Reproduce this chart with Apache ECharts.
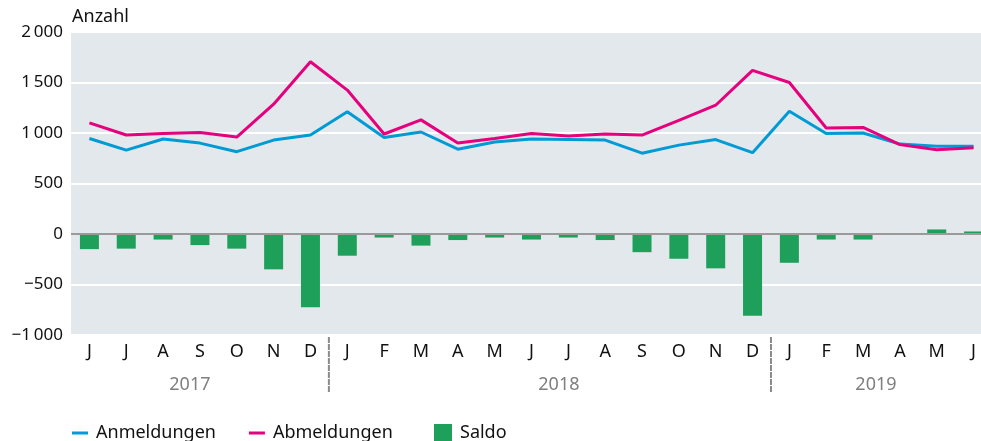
<!DOCTYPE html>
<html>
<head>
<meta charset="utf-8">
<script src="https://cdn.jsdelivr.net/npm/echarts@6/dist/echarts.min.js"></script>
<style>
  html, body { margin: 0; padding: 0; background: #fff; }
  #chart { width: 981px; height: 441px; }
</style>
</head>
<body>
<div id="chart"></div>
<script>
var months = ['J','J','A','S','O','N','D','J','F','M','A','M','J','J','A','S','O','N','D','J','F','M','A','M','J'];
var years = ['2017','2018','2019'];
var anmeldungen = [945,830,940,900,815,930,980,1210,955,1010,840,910,940,935,930,800,880,935,805,1215,995,1000,890,870,870];
var abmeldungen = [1100,980,995,1005,960,1285,1705,1425,990,1130,900,945,995,970,990,980,1125,1275,1620,1500,1050,1055,885,835,855];
var saldo = [-150,-145,-55,-110,-145,-350,-725,-215,-35,-115,-60,-35,-55,-35,-60,-180,-245,-340,-810,-285,-55,-55,0,45,25];

var font = '"Noto Sans", sans-serif';
var chart = echarts.init(document.getElementById('chart'));

function fmtNum(v) {
  var s = Math.abs(v).toString();
  if (s.length > 3) s = s.slice(0, s.length - 3) + '\u2009' + s.slice(s.length - 3);
  return (v < 0 ? '\u2212' : '') + s;
}

var option = {
  animation: false,
  textStyle: { fontFamily: font },
  grid: {
    left: 71, top: 32, width: 921, height: 303,
    outerBoundsMode: 'none', containLabel: false,
    backgroundColor: '#e3e8ec', show: true, borderWidth: 0
  },
  legend: [
    {
      data: ['Anmeldungen', 'Abmeldungen'],
      left: 72, top: 424, padding: 0,
      itemWidth: 16, itemHeight: 3, itemGap: 33,
      icon: 'rect',
      textStyle: { fontFamily: font, fontSize: 18, color: '#111', padding: [0, 0, 0, 3] }
    },
    {
      data: ['Saldo'],
      left: 434, top: 424, padding: 0,
      itemWidth: 18, itemHeight: 18,
      icon: 'rect',
      textStyle: { fontFamily: font, fontSize: 18, color: '#111', padding: [0, 0, 0, 3] }
    }
  ],
  xAxis: {
    type: 'category',
    data: months,
    axisLine: { show: false },
    axisTick: { show: false },
    axisLabel: { fontFamily: font, fontSize: 18, color: '#111', margin: 8 }
  },
  yAxis: {
    type: 'value',
    min: -1000, max: 2000, interval: 500,
    axisLine: { show: false },
    axisTick: { show: false },
    splitLine: { lineStyle: { color: '#ffffff', width: 2 } },
    axisLabel: { fontFamily: font, fontSize: 17, color: '#111', margin: 8, formatter: fmtNum }
  },
  series: [
    {
      name: 'Saldo', type: 'bar', data: saldo, barWidth: 19,
      itemStyle: { color: '#1fa05a' },
      markLine: {
        silent: true, symbol: 'none', label: { show: false },
        lineStyle: { color: '#9a9a9a', width: 2, type: 'solid' },
        data: [{ yAxis: 0 }]
      },
      z: 2
    },
    {
      name: 'Anmeldungen', type: 'line', data: anmeldungen,
      symbol: 'none', lineStyle: { color: '#009ad5', width: 3 },
      itemStyle: { color: '#009ad5' }, z: 3
    },
    {
      name: 'Abmeldungen', type: 'line', data: abmeldungen,
      symbol: 'none', lineStyle: { color: '#e5007d', width: 3 },
      itemStyle: { color: '#e5007d' }, z: 4
    }
  ]
};
chart.setOption(option);

// year separators and year labels, placed from the axis
function px(i) { return chart.convertToPixel({ xAxisIndex: 0 }, i); }
var sep1 = (px(6) + px(7)) / 2;
var sep2 = (px(18) + px(19)) / 2;
var yearStyle = { font: '18px ' + font, fill: '#7f7f7f', align: 'center', verticalAlign: 'middle' };
chart.setOption({
  graphic: [
    { type: 'text', left: 72, top: 8, style: { text: 'Anzahl', font: '18px ' + font, fill: '#111' } },
    { type: 'line', shape: { x1: sep1, y1: 337, x2: sep1, y2: 393 }, style: { stroke: '#8a8a8a', lineWidth: 2, lineDash: [6, 1] } },
    { type: 'line', shape: { x1: sep2, y1: 337, x2: sep2, y2: 393 }, style: { stroke: '#8a8a8a', lineWidth: 2, lineDash: [6, 1] } },
    { type: 'text', x: sep1 - 139, y: 385, style: Object.assign({ text: years[0] }, yearStyle) },
    { type: 'text', x: (sep1 + sep2) / 2 + 9, y: 385, style: Object.assign({ text: years[1] }, yearStyle) },
    { type: 'text', x: sep2 + 105, y: 385, style: Object.assign({ text: years[2] }, yearStyle) }
  ]
});
</script>
</body>
</html>
